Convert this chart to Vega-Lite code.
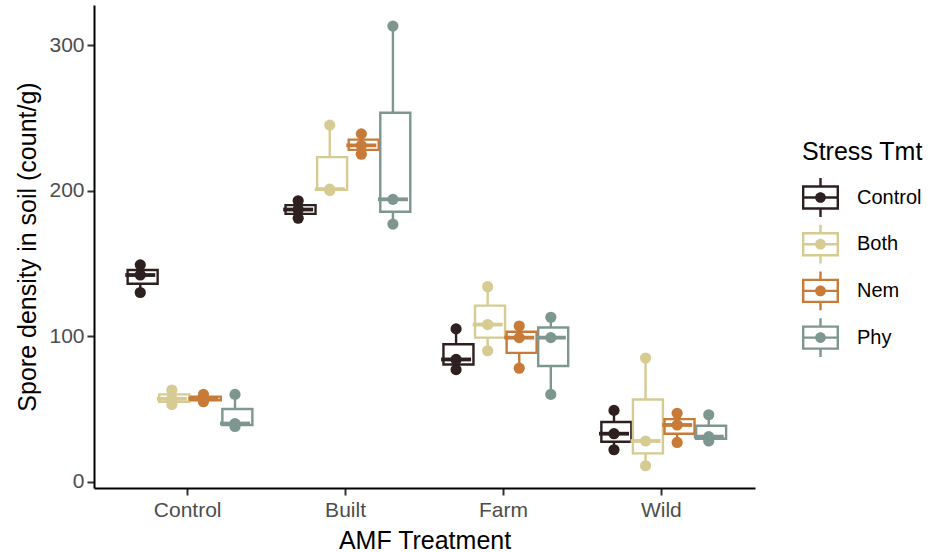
{
  "$schema": "https://vega.github.io/schema/vega-lite/v6.json",
  "width": 661,
  "height": 483,
  "autosize": {"type": "none"},
  "padding": {"left": 94, "top": 5, "right": 175, "bottom": 64},
  "background": "white",
  "config": {
    "view": {"stroke": null},
    "font": "Liberation Sans",
    "axis": {
      "domainColor": "black",
      "domainWidth": 2,
      "tickColor": "#333333",
      "tickWidth": 2,
      "tickSize": 7,
      "labelColor": "#4d4d4d",
      "labelFontSize": 21,
      "labelFont": "Liberation Sans",
      "titleFont": "Liberation Sans",
      "titleFontSize": 25,
      "titleFontWeight": "normal",
      "titleColor": "black",
      "grid": false
    }
  },
  "data": {
    "values": [
      {"amf": "Control", "stress": "Control", "value": 149},
      {"amf": "Control", "stress": "Control", "value": 142},
      {"amf": "Control", "stress": "Control", "value": 130},
      {"amf": "Control", "stress": "Both", "value": 63},
      {"amf": "Control", "stress": "Both", "value": 57},
      {"amf": "Control", "stress": "Both", "value": 53},
      {"amf": "Control", "stress": "Nem", "value": 60},
      {"amf": "Control", "stress": "Nem", "value": 57},
      {"amf": "Control", "stress": "Nem", "value": 55},
      {"amf": "Control", "stress": "Phy", "value": 60},
      {"amf": "Control", "stress": "Phy", "value": 40},
      {"amf": "Control", "stress": "Phy", "value": 38},
      {"amf": "Built", "stress": "Control", "value": 193},
      {"amf": "Built", "stress": "Control", "value": 187},
      {"amf": "Built", "stress": "Control", "value": 181},
      {"amf": "Built", "stress": "Both", "value": 245},
      {"amf": "Built", "stress": "Both", "value": 201},
      {"amf": "Built", "stress": "Both", "value": 200},
      {"amf": "Built", "stress": "Nem", "value": 239},
      {"amf": "Built", "stress": "Nem", "value": 231},
      {"amf": "Built", "stress": "Nem", "value": 225},
      {"amf": "Built", "stress": "Phy", "value": 313},
      {"amf": "Built", "stress": "Phy", "value": 194},
      {"amf": "Built", "stress": "Phy", "value": 177},
      {"amf": "Farm", "stress": "Control", "value": 105},
      {"amf": "Farm", "stress": "Control", "value": 84},
      {"amf": "Farm", "stress": "Control", "value": 77},
      {"amf": "Farm", "stress": "Both", "value": 134},
      {"amf": "Farm", "stress": "Both", "value": 108},
      {"amf": "Farm", "stress": "Both", "value": 90},
      {"amf": "Farm", "stress": "Nem", "value": 107},
      {"amf": "Farm", "stress": "Nem", "value": 99},
      {"amf": "Farm", "stress": "Nem", "value": 78},
      {"amf": "Farm", "stress": "Phy", "value": 113},
      {"amf": "Farm", "stress": "Phy", "value": 99},
      {"amf": "Farm", "stress": "Phy", "value": 60},
      {"amf": "Wild", "stress": "Control", "value": 49},
      {"amf": "Wild", "stress": "Control", "value": 33},
      {"amf": "Wild", "stress": "Control", "value": 22},
      {"amf": "Wild", "stress": "Both", "value": 85},
      {"amf": "Wild", "stress": "Both", "value": 28},
      {"amf": "Wild", "stress": "Both", "value": 11},
      {"amf": "Wild", "stress": "Nem", "value": 47},
      {"amf": "Wild", "stress": "Nem", "value": 39},
      {"amf": "Wild", "stress": "Nem", "value": 27},
      {"amf": "Wild", "stress": "Phy", "value": 46},
      {"amf": "Wild", "stress": "Phy", "value": 31},
      {"amf": "Wild", "stress": "Phy", "value": 28}
    ]
  },
  "encoding": {
    "x": {
      "field": "amf",
      "type": "nominal",
      "sort": ["Control", "Built", "Farm", "Wild"],
      "scale": {"paddingInner": 0.2, "paddingOuter": 0.193},
      "title": "AMF Treatment",
      "axis": {"labelAngle": 0, "labelPadding": 4, "titlePadding": 8}
    },
    "xOffset": {
      "field": "stress",
      "type": "nominal",
      "sort": ["Control", "Both", "Nem", "Phy"],
      "scale": {"paddingInner": 0, "paddingOuter": 0}
    }
  },
  "layer": [
    {
      "mark": {"type": "rule", "strokeWidth": 2.4},
      "encoding": {
        "y": {
          "aggregate": "min",
          "field": "value",
          "type": "quantitative",
          "title": "Spore density in soil (count/g)",
          "scale": {"domain": [-4.3, 327.5], "nice": false, "zero": false},
          "axis": {"values": [0, 100, 200, 300], "labelPadding": 3, "titlePadding": 8}
        },
        "y2": {"aggregate": "max", "field": "value"},
        "color": {
          "field": "stress",
          "type": "nominal",
          "scale": {"domain": ["Control", "Both", "Nem", "Phy"], "range": ["#2e2020", "#d6cb92", "#c87b38", "#7d968f"]}
        }
      }
    },
    {
      "mark": {"type": "bar", "fill": "white", "strokeWidth": 2.4, "width": {"band": 0.95}},
      "encoding": {
        "y": {"aggregate": "q1", "field": "value", "type": "quantitative"},
        "y2": {"aggregate": "q3", "field": "value"},
        "stroke": {
          "field": "stress",
          "type": "nominal",
          "scale": {"domain": ["Control", "Both", "Nem", "Phy"], "range": ["#2e2020", "#d6cb92", "#c87b38", "#7d968f"]},
          "legend": null
        }
      }
    },
    {
      "mark": {"type": "tick", "thickness": 3.8, "size": 30},
      "encoding": {
        "y": {"aggregate": "median", "field": "value", "type": "quantitative"},
        "color": {"field": "stress", "type": "nominal"}
      }
    },
    {
      "mark": {"type": "point", "filled": true, "size": 125, "opacity": 1},
      "encoding": {
        "y": {"field": "value", "type": "quantitative"},
        "color": {
          "field": "stress",
          "type": "nominal",
          "legend": {
            "title": "Stress Tmt",
            "orient": "none",
            "legendX": 708,
            "legendY": 135,
            "padding": 0,
            "symbolType": "M-1,-0.66H1V0.66H-1Z M-0.87,-0.53V0.53H0.87V-0.53Z M-0.87,-0.065H0.87V0.065H-0.87Z M-0.065,-1.05H0.065V-0.66H-0.065Z M-0.065,0.66H0.065V1.05H-0.065Z M0.29,0A0.29 0.29 0 1 1 -0.29,0A0.29 0.29 0 1 1 0.29,0Z",
            "symbolSize": 1369,
            "symbolStrokeWidth": 0,
            "symbolOpacity": 1,
            "titleFont": "Liberation Sans",
            "titleFontSize": 25,
            "titleFontWeight": "normal",
            "titleColor": "black",
            "titlePadding": 14,
            "labelFont": "Liberation Sans",
            "labelFontSize": 20,
            "labelColor": "black",
            "labelOffset": 18,
            "rowPadding": 7.7
          }
        }
      }
    }
  ]
}
